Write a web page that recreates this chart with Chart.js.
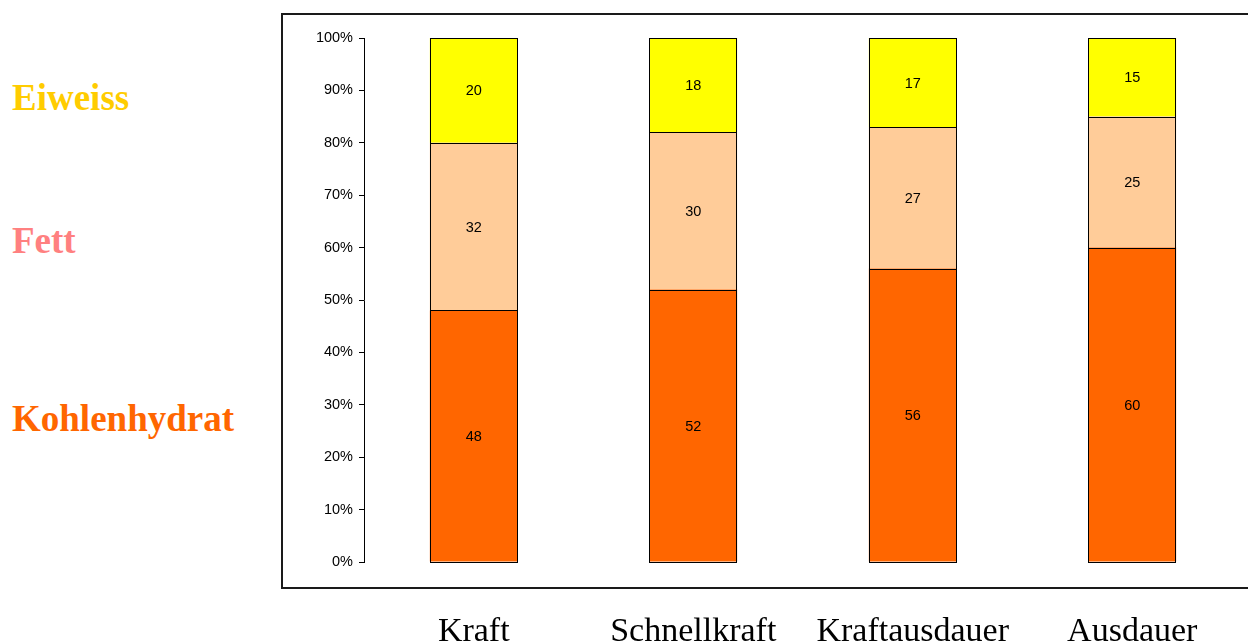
<!DOCTYPE html>
<html>
<head>
<meta charset="utf-8">
<script src="https://cdn.jsdelivr.net/npm/chart.js@4"></script>
<style>
  html, body { margin: 0; padding: 0; background: #fff; }
  #wrap { position: relative; width: 1248px; height: 641px; overflow: hidden; }
  #frame { position: absolute; left: 281px; top: 13px; width: 1000px; height: 572px;
           border-left: 2px solid #1a1a1a; border-top: 2px solid #1a1a1a; border-bottom: 2px solid #1a1a1a; }
  .side { position: absolute; left: 12px; font-family: "Liberation Serif", "Times New Roman", serif;
          font-weight: 700; font-size: 37px; line-height: 1; }
  canvas { position: absolute; left: 0; top: 0; }
</style>
</head>
<body>
<div id="wrap">
  <div id="frame"></div>
  <div class="side" style="top:79px;color:#FFCC00">Eiweiss</div>
  <div class="side" style="top:222px;color:#FF8080">Fett</div>
  <div class="side" style="top:400px;color:#FF6600">Kohlenhydrat</div>
  <canvas id="chart" width="1248" height="641"></canvas>
</div>
<script>
// Daten
const categories = ['Kraft', 'Schnellkraft', 'Kraftausdauer', 'Ausdauer'];
const kohlenhydrat = [48, 52, 56, 60];
const fett = [32, 30, 27, 25];
const eiweiss = [20, 18, 17, 15];
const yTicks = [0, 10, 20, 30, 40, 50, 60, 70, 80, 90, 100];

// schwarze Umrandung auf ganze Pixel + Zahlen mittig in jedes Segment
const segmentLabels = {
    id: 'segmentLabels',
    afterDatasetsDraw(chart) {
        const ctx = chart.ctx;
        ctx.save();
        ctx.strokeStyle = '#000';
        ctx.lineWidth = 1;
        chart.data.datasets.forEach((ds, i) => {
            chart.getDatasetMeta(i).data.forEach(bar => {
                const l = Math.round(bar.x - bar.width / 2);
                const r = Math.round(bar.x + bar.width / 2);
                const t = Math.round(bar.y);
                const b = Math.round(bar.base);
                ctx.strokeRect(l + 0.5, t + 0.5, r - l - 1, b - t);
            });
        });
        ctx.font = '14.5px "Liberation Sans", Arial, sans-serif';
        ctx.fillStyle = '#000';
        ctx.textAlign = 'center';
        ctx.textBaseline = 'middle';
        chart.data.datasets.forEach((ds, i) => {
            chart.getDatasetMeta(i).data.forEach((bar, j) => {
                ctx.fillText(String(ds.data[j]), bar.x, (bar.y + bar.base) / 2 + 1);
            });
        });
        ctx.restore();
    }
};

new Chart(document.getElementById('chart'), {
    type: 'bar',
    data: {
        labels: categories,
        datasets: [
            { label: 'Kohlenhydrat', data: kohlenhydrat, backgroundColor: '#FF6600' },
            { label: 'Fett', data: fett, backgroundColor: '#FFCC99' },
            { label: 'Eiweiss', data: eiweiss, backgroundColor: '#FFFF00' }
        ].map(d => Object.assign(d, {
            borderWidth: 0,
            barPercentage: 0.8, categoryPercentage: 0.5
        }))
    },
    options: {
        responsive: false,
        animation: false,
        layout: { padding: { left: 0, right: 6, top: 38, bottom: 0 } },
        plugins: { legend: { display: false }, tooltip: { enabled: false } },
        scales: {
            x: {
                stacked: true,
                grid: { display: false },
                border: { display: false },
                ticks: {
                    color: '#000',
                    padding: 42,
                    font: { family: '"Liberation Serif", "Times New Roman", serif', size: 34 }
                },
                afterFit(scale) { scale.height = 79; }
            },
            y: {
                stacked: true,
                min: 0, max: 100,
                afterBuildTicks(scale) { scale.ticks = yTicks.map(v => ({ value: v })); },
                grid: { display: true, drawOnChartArea: false, drawTicks: true, tickLength: 5, color: '#000' },
                border: { display: true, color: '#000', width: 1 },
                ticks: {
                    color: '#000',
                    padding: 6,
                    font: { family: '"Liberation Sans", Arial, sans-serif', size: 14.5 },
                    callback: v => v + '%'
                },
                afterFit(scale) { scale.width = 364; }
            }
        }
    },
    plugins: [segmentLabels]
});
</script>
</body>
</html>
